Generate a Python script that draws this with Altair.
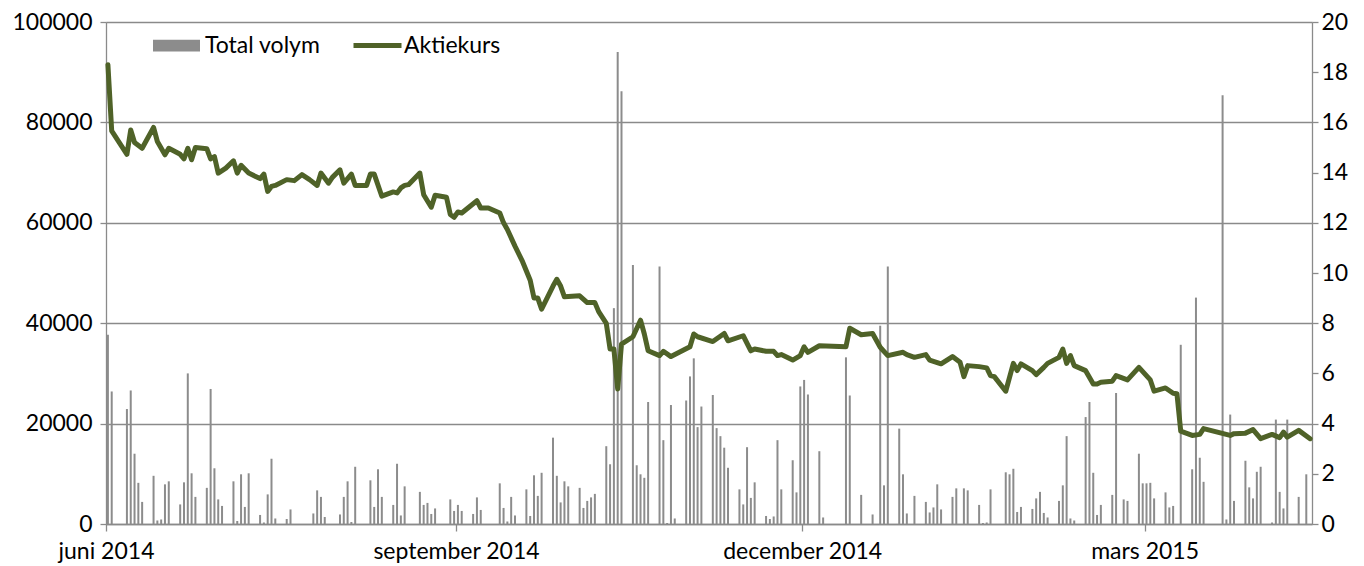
import altair as alt
import pandas as pd

# ---------------- data ----------------
vol_dates = [
    "2014-06-04", "2014-06-05", "2014-06-09", "2014-06-10", "2014-06-11", "2014-06-12", "2014-06-13",
    "2014-06-16", "2014-06-17", "2014-06-18", "2014-06-19", "2014-06-20", "2014-06-23", "2014-06-24",
    "2014-06-25", "2014-06-26", "2014-06-27", "2014-06-30", "2014-07-01", "2014-07-02", "2014-07-03",
    "2014-07-04", "2014-07-07", "2014-07-08", "2014-07-09", "2014-07-10", "2014-07-11", "2014-07-14",
    "2014-07-15", "2014-07-16", "2014-07-17", "2014-07-18", "2014-07-21", "2014-07-22", "2014-07-28",
    "2014-07-29", "2014-07-30", "2014-07-31", "2014-08-04", "2014-08-05", "2014-08-06", "2014-08-07",
    "2014-08-08", "2014-08-12", "2014-08-13", "2014-08-14", "2014-08-15", "2014-08-18", "2014-08-19",
    "2014-08-20", "2014-08-21", "2014-08-25", "2014-08-26", "2014-08-27", "2014-08-28", "2014-08-29",
    "2014-09-02", "2014-09-03", "2014-09-04", "2014-09-05", "2014-09-08", "2014-09-09", "2014-09-10",
    "2014-09-15", "2014-09-16", "2014-09-17", "2014-09-18", "2014-09-19", "2014-09-22", "2014-09-23",
    "2014-09-24", "2014-09-25", "2014-09-26", "2014-09-29", "2014-09-30", "2014-10-01", "2014-10-02",
    "2014-10-03", "2014-10-06", "2014-10-07", "2014-10-08", "2014-10-09", "2014-10-10", "2014-10-13",
    "2014-10-14", "2014-10-15", "2014-10-16", "2014-10-17", "2014-10-20", "2014-10-21", "2014-10-22",
    "2014-10-23", "2014-10-24", "2014-10-27", "2014-10-28", "2014-10-29", "2014-10-30", "2014-10-31",
    "2014-11-03", "2014-11-04", "2014-11-05", "2014-11-06", "2014-11-07", "2014-11-10", "2014-11-11",
    "2014-11-12", "2014-11-13", "2014-11-14", "2014-11-17", "2014-11-18", "2014-11-19", "2014-11-20",
    "2014-11-21", "2014-11-24", "2014-11-25", "2014-11-26", "2014-11-27", "2014-11-28", "2014-12-01",
    "2014-12-02", "2014-12-03", "2014-12-04", "2014-12-05", "2014-12-08", "2014-12-09", "2014-12-15",
    "2014-12-16", "2014-12-19", "2014-12-22", "2014-12-24", "2014-12-25", "2014-12-26", "2014-12-29",
    "2014-12-30", "2014-12-31", "2015-01-02", "2015-01-05", "2015-01-06", "2015-01-07", "2015-01-08",
    "2015-01-09", "2015-01-12", "2015-01-13", "2015-01-15", "2015-01-16", "2015-01-19", "2015-01-20",
    "2015-01-21", "2015-01-22", "2015-01-26", "2015-01-27", "2015-01-28", "2015-01-29", "2015-01-30",
    "2015-02-02", "2015-02-03", "2015-02-04", "2015-02-05", "2015-02-06", "2015-02-09", "2015-02-10",
    "2015-02-11", "2015-02-12", "2015-02-13", "2015-02-16", "2015-02-17", "2015-02-18", "2015-02-19",
    "2015-02-20", "2015-02-23", "2015-02-24", "2015-02-26", "2015-02-27", "2015-03-02", "2015-03-03",
    "2015-03-04", "2015-03-05", "2015-03-06", "2015-03-09", "2015-03-10", "2015-03-11", "2015-03-13",
    "2015-03-16", "2015-03-17", "2015-03-18", "2015-03-19", "2015-03-24", "2015-03-25", "2015-03-26",
    "2015-03-27", "2015-03-30", "2015-03-31", "2015-04-01", "2015-04-02", "2015-04-03", "2015-04-06",
    "2015-04-07", "2015-04-08", "2015-04-09", "2015-04-10", "2015-04-13", "2015-04-15",
]
vol_values = [
    37700, 26400, 22900, 26600, 14000, 8200, 4400,
    9600, 700, 900, 7900, 8500, 3900, 8300,
    30000, 10100, 5400, 7200, 26900, 11100, 4900,
    3600, 8500, 600, 9900, 3400, 10100, 1800,
    300, 5900, 13000, 1100, 1000, 2900, 2100,
    6700, 5400, 1400, 1900, 5400, 8500, 400,
    11400, 8700, 3400, 10900, 5400, 3800, 12000,
    1700, 7500, 6400, 3800, 4200, 2000, 3100,
    4900, 2600, 3800, 2600, 2000, 5300, 2800,
    8100, 3200, 500, 5400, 1700, 6900, 1600,
    9700, 5600, 10200, 17200, 9600, 4300, 8500,
    7500, 7200, 3200, 4600, 5300, 6000, 15500,
    11900, 43000, 94000, 86200, 51600, 11700, 9900,
    9200, 24300, 51300, 16700, 200, 23700, 1100,
    24600, 29400, 33000, 19300, 23400, 25700, 19100,
    17500, 15200, 11200, 6900, 3900, 15300, 5200,
    8300, 1600, 1000, 1500, 16700, 6900, 12700,
    6300, 27400, 28700, 25800, 14500, 1300, 33200,
    25600, 5800, 1900, 39500, 7700, 51300, 19000,
    9900, 2100, 5600, 4400, 2300, 3300, 7900,
    2900, 5400, 7100, 7100, 6700, 3800, 200,
    300, 6900, 10300, 9900, 11000, 2400, 3400,
    3000, 5100, 6400, 2200, 1300, 4600, 7700,
    17500, 1100, 700, 21300, 24300, 10200, 1800,
    3800, 5800, 26100, 4900, 4600, 14000, 8100,
    8100, 8200, 5100, 6300, 3300, 3600, 35700,
    10900, 45100, 13200, 8400, 85400, 900, 21800,
    4600, 12600, 7300, 5100, 10400, 11400, 300,
    20800, 6400, 3100, 20800, 5400, 9900,
]

price_dates = [
    "2014-06-04", "2014-06-05", "2014-06-09", "2014-06-10", "2014-06-11", "2014-06-13", "2014-06-16",
    "2014-06-17", "2014-06-19", "2014-06-20", "2014-06-23", "2014-06-24", "2014-06-25", "2014-06-26",
    "2014-06-27", "2014-06-30", "2014-07-01", "2014-07-02", "2014-07-03", "2014-07-05", "2014-07-07",
    "2014-07-08", "2014-07-09", "2014-07-11", "2014-07-14", "2014-07-15", "2014-07-16", "2014-07-17",
    "2014-07-18", "2014-07-21", "2014-07-23", "2014-07-25", "2014-07-27", "2014-07-29", "2014-07-30",
    "2014-08-01", "2014-08-02", "2014-08-04", "2014-08-05", "2014-08-07", "2014-08-08", "2014-08-11",
    "2014-08-12", "2014-08-13", "2014-08-15", "2014-08-18", "2014-08-19", "2014-08-20", "2014-08-21",
    "2014-08-22", "2014-08-25", "2014-08-26", "2014-08-28", "2014-08-29", "2014-09-01", "2014-09-02",
    "2014-09-03", "2014-09-04", "2014-09-05", "2014-09-09", "2014-09-10", "2014-09-12", "2014-09-15",
    "2014-09-16", "2014-09-17", "2014-09-19", "2014-09-21", "2014-09-23", "2014-09-24", "2014-09-25",
    "2014-09-26", "2014-09-29", "2014-09-30", "2014-10-01", "2014-10-02", "2014-10-06", "2014-10-08",
    "2014-10-10", "2014-10-11", "2014-10-13", "2014-10-14", "2014-10-15", "2014-10-16", "2014-10-17",
    "2014-10-20", "2014-10-22", "2014-10-23", "2014-10-24", "2014-10-27", "2014-10-28", "2014-10-30",
    "2014-11-04", "2014-11-05", "2014-11-06", "2014-11-10", "2014-11-13", "2014-11-14", "2014-11-18",
    "2014-11-20", "2014-11-21", "2014-11-24", "2014-11-26", "2014-11-27", "2014-11-28", "2014-12-01",
    "2014-12-03", "2014-12-04", "2014-12-05", "2014-12-08", "2014-12-15", "2014-12-16", "2014-12-19",
    "2014-12-22", "2014-12-24", "2014-12-26", "2014-12-30", "2014-12-31", "2015-01-02", "2015-01-05",
    "2015-01-06", "2015-01-09", "2015-01-12", "2015-01-14", "2015-01-15", "2015-01-16", "2015-01-19",
    "2015-01-21", "2015-01-22", "2015-01-23", "2015-01-26", "2015-01-28", "2015-01-29", "2015-01-30",
    "2015-02-02", "2015-02-03", "2015-02-05", "2015-02-06", "2015-02-09", "2015-02-10", "2015-02-11",
    "2015-02-12", "2015-02-13", "2015-02-16", "2015-02-18", "2015-02-19", "2015-02-20", "2015-02-23",
    "2015-02-24", "2015-02-27", "2015-03-02", "2015-03-05", "2015-03-06", "2015-03-09", "2015-03-11",
    "2015-03-12", "2015-03-13", "2015-03-16", "2015-03-18", "2015-03-19", "2015-03-26", "2015-03-27",
    "2015-03-30", "2015-04-01", "2015-04-03", "2015-04-06", "2015-04-08", "2015-04-09", "2015-04-10",
    "2015-04-13", "2015-04-16",
]
price_values = [
    18.3, 15.66, 14.73, 15.7, 15.2, 14.97, 15.8,
    15.24, 14.71, 14.97, 14.73, 14.55, 14.97, 14.51,
    15.0, 14.95, 14.55, 14.64, 13.98, 14.18, 14.47,
    13.98, 14.29, 13.98, 13.76, 13.94, 13.25, 13.45,
    13.49, 13.72, 13.68, 13.92, 13.72, 13.49, 13.98,
    13.58, 13.81, 14.11, 13.58, 13.94, 13.49, 13.49,
    13.94, 13.94, 13.06, 13.23, 13.19, 13.39, 13.49,
    13.52, 13.98, 13.12, 12.62, 13.1, 13.02, 12.33,
    12.22, 12.43, 12.39, 12.88, 12.59, 12.59, 12.39,
    12.0, 11.73, 11.07, 10.45, 9.71, 9.0, 9.0,
    8.56, 9.48, 9.75, 9.48, 9.05, 9.09, 8.82,
    8.82, 8.46, 7.99, 6.97, 6.97, 5.38, 7.17,
    7.46, 8.12, 7.57, 6.9, 6.71, 6.88, 6.67,
    7.06, 7.57, 7.46, 7.27, 7.59, 7.3, 7.5,
    6.9, 6.97, 6.88, 6.88, 6.71, 6.75, 6.53,
    6.71, 7.06, 6.84, 7.1, 7.06, 7.8, 7.54,
    7.59, 7.04, 6.71, 6.84, 6.75, 6.64, 6.75,
    6.53, 6.38, 6.67, 6.44, 5.87, 6.31, 6.27,
    6.22, 5.91, 5.87, 5.29, 6.4, 6.11, 6.38,
    6.11, 5.95, 6.24, 6.4, 6.64, 6.97, 6.4,
    6.71, 6.31, 6.11, 5.58, 5.58, 5.65, 5.69,
    5.91, 5.74, 6.24, 5.74, 5.29, 5.42, 5.21,
    5.19, 3.7, 3.53, 3.57, 3.8, 3.53, 3.6,
    3.62, 3.76, 3.4, 3.57, 3.44, 3.66, 3.46,
    3.73, 3.4,
]

vol_ticks = [0, 20000, 40000, 60000, 80000, 100000]
price_ticks = [0, 2, 4, 6, 8, 10, 12, 14, 16, 18, 20]
month_names = ["januari", "februari", "mars", "april", "maj", "juni", "juli",
               "augusti", "september", "oktober", "november", "december"]
bar_label = "Total volym"
line_label = "Aktiekurs"

# ---------------- styling ----------------
FONT = "Lato"
FS = 23
GRAY = "#8c8c8c"
AXIS_GRAY = "#8a8a8a"
OLIVE = "#4f6228"

vol_df = pd.DataFrame({"datum": vol_dates, "volym": vol_values})
price_df = pd.DataFrame({"datum": price_dates, "kurs": price_values})

x_domain = [alt.DateTime(year=2014, month=6, date=4, utc=True),
            alt.DateTime(year=2015, month=4, date=17, utc=True)]
x_ticks = [alt.DateTime(year=2014, month=6, date=4, utc=True),
           alt.DateTime(year=2014, month=9, date=4, utc=True),
           alt.DateTime(year=2014, month=12, date=4, utc=True),
           alt.DateTime(year=2015, month=3, date=4, utc=True)]
label_expr = ("[" + ",".join("'" + m + "'" for m in month_names) + "][utcmonth(datum.value)]"
              " + ' ' + utcyear(datum.value)")

x_enc = alt.X(
    "t:T",
    scale=alt.Scale(domain=x_domain, nice=False, padding=0),
    axis=alt.Axis(
        values=x_ticks, labelExpr=label_expr, title=None, grid=False,
        domainColor=AXIS_GRAY, domainWidth=1.3, tickColor=AXIS_GRAY, tickWidth=1.3, tickSize=7,
        labelFont=FONT, labelFontSize=FS, labelColor="#000000", labelPadding=9,
        labelFlush=False, labelOverlap=False, labelAlign="center",
    ),
)

bars = (
    alt.Chart(vol_df)
    .transform_calculate(t="toNumber(toDate(datum.datum)) + 43200000", serie=f"'{bar_label}'")
    .mark_bar(size=2)
    .encode(
        x=x_enc,
        y=alt.Y(
            "volym:Q",
            scale=alt.Scale(domain=[0, 100000], nice=False),
            axis=alt.Axis(
                orient="left", values=vol_ticks, format="d", title=None,
                grid=True, gridColor=AXIS_GRAY, gridWidth=1.3,
                domainColor=AXIS_GRAY, domainWidth=1.3, tickColor=AXIS_GRAY, tickWidth=1.3, tickSize=6,
                labelFont=FONT, labelFontSize=FS, labelColor="#000000", labelPadding=8,
            ),
        ),
        color=alt.Color(
            "serie:N",
            scale=alt.Scale(domain=[bar_label], range=[GRAY]),
            legend=alt.Legend(
                title=None, orient="none", legendX=47, legendY=0, padding=0,
                symbolType="M-1,-0.25H1V0.25H-1Z", symbolSize=2209, symbolStrokeWidth=0,
                symbolOpacity=1, labelFont=FONT, labelFontSize=FS, labelColor="#000000",
                labelOffset=5,
            ),
        ),
    )
)

line = (
    alt.Chart(price_df)
    .transform_calculate(t="toNumber(toDate(datum.datum)) + 43200000", serie2=f"'{line_label}'")
    .mark_line(strokeWidth=5, strokeJoin="round", strokeCap="round")
    .encode(
        x=x_enc,
        y=alt.Y(
            "kurs:Q",
            scale=alt.Scale(domain=[0, 20], nice=False),
            axis=alt.Axis(
                orient="right", values=price_ticks, title=None, grid=False,
                domainColor=AXIS_GRAY, domainWidth=1.3, tickColor=AXIS_GRAY, tickWidth=1.3, tickSize=6,
                labelFont=FONT, labelFontSize=FS, labelColor="#000000", labelPadding=3,
            ),
        ),
        stroke=alt.Stroke(
            "serie2:N",
            scale=alt.Scale(domain=[line_label], range=[OLIVE]),
            legend=alt.Legend(
                title=None, orient="none", legendX=245, legendY=-3, padding=0,
                symbolType="stroke", symbolSize=2304, symbolStrokeWidth=5,
                labelFont=FONT, labelFontSize=FS, labelColor="#000000", labelOffset=0,
            ),
        ),
    )
)

chart = (
    alt.layer(bars, line)
    .resolve_scale(y="independent", color="independent", stroke="independent")
    .properties(
        width=1206, height=502,
        padding={"left": 98, "top": 14, "right": 40, "bottom": 40},
        autosize=alt.AutoSizeParams(type="none"),
    )
    .configure_view(stroke=None)
    .configure(background="white")
)

chart.save("out.html", embed_options={"renderer": "svg", "actions": False})
